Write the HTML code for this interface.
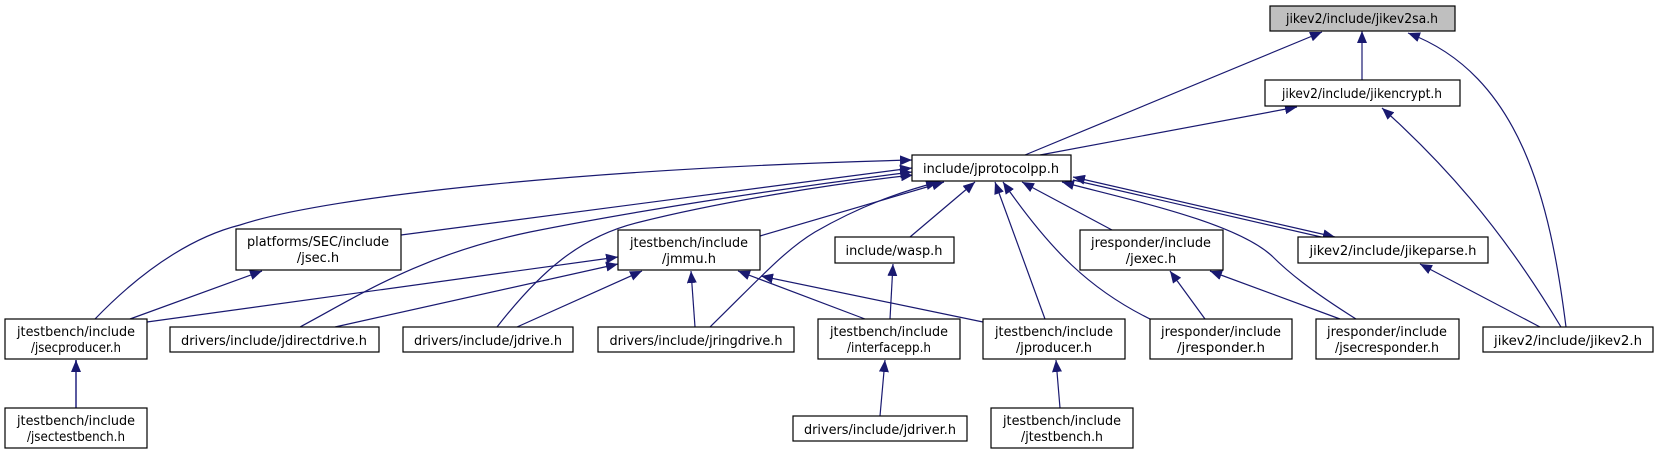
<!DOCTYPE html>
<html><head><meta charset="utf-8">
<style>
html,body{margin:0;padding:0;background:#fff;}
svg{display:block;}
text{font-family:"DejaVu Sans","Liberation Sans",sans-serif;font-size:13px;fill:#000;}
</style></head><body>
<svg width="1658" height="455" viewBox="0 0 1658 455" xmlns="http://www.w3.org/2000/svg">
<defs>
<marker id="a" viewBox="0 0 12 10" refX="12" refY="5" markerWidth="12" markerHeight="10" markerUnits="userSpaceOnUse" orient="auto-start-reverse">
<path d="M0,0 L12,5 L0,10 z" fill="#191970"/>
</marker>
</defs>
<g fill="none" stroke="#191970" stroke-width="1.2">
<path d="M1362,80 L1362,31" marker-end="url(#a)"/>
<path d="M1025,155 L1322,32" marker-end="url(#a)"/>
<path d="M1566,327 C1550,200 1520,75 1408,33" marker-end="url(#a)"/>
<path d="M1040,155 L1297,107" marker-end="url(#a)"/>
<path d="M1561,327 C1500,225 1440,160 1382,108" marker-end="url(#a)"/>
<path d="M401,235 L912,168" marker-end="url(#a)"/>
<path d="M95,319 C150,262 200,235 240,225 C330,195 600,168 912,160" marker-end="url(#a)"/>
<path d="M300,327 C360,295 420,255 530,232 C650,208 800,186 912,172" marker-end="url(#a)"/>
<path d="M497,327 C540,272 580,236 640,222 C720,202 830,184 913,175" marker-end="url(#a)"/>
<path d="M760,236 L944,182" marker-end="url(#a)"/>
<path d="M710,327 C760,278 785,250 815,232 C860,206 900,192 938,182" marker-end="url(#a)"/>
<path d="M910,237 L975,182" marker-end="url(#a)"/>
<path d="M1045,319 L995,182" marker-end="url(#a)"/>
<path d="M1152,320 C1090,290 1050,250 1003,182" marker-end="url(#a)"/>
<path d="M1112,230 L1022,182" marker-end="url(#a)"/>
<path d="M1356,319 C1310,290 1288,272 1272,256 C1235,222 1130,200 1062,182" marker-end="url(#a)"/>
<path d="M1073,177 L1335,237" marker-start="url(#a)" marker-end="url(#a)"/>
<path d="M1073,180 L1330,239"/>
<path d="M130,319 L262,271" marker-end="url(#a)"/>
<path d="M147,322 L618,257" marker-end="url(#a)"/>
<path d="M335,327 L618,264" marker-end="url(#a)"/>
<path d="M517,327 L642,271" marker-end="url(#a)"/>
<path d="M695,327 L691,271" marker-end="url(#a)"/>
<path d="M865,319 L738,271" marker-end="url(#a)"/>
<path d="M983,322 L761,276" marker-end="url(#a)"/>
<path d="M890,319 L893,264" marker-end="url(#a)"/>
<path d="M1205,319 L1170,271" marker-end="url(#a)"/>
<path d="M1340,319 L1210,271" marker-end="url(#a)"/>
<path d="M1540,327 L1420,264" marker-end="url(#a)"/>
<path d="M76,408 L76,360" marker-end="url(#a)" stroke="#5a5aa0" stroke-width="2"/>
<path d="M880,416 L885,360" marker-end="url(#a)"/>
<path d="M1060,408 L1056,360" marker-end="url(#a)"/>
</g>
<g stroke-width="1.2">
<rect x="1270" y="6" width="185" height="25" fill="#bfbfbf" stroke="#000"/>
<rect x="1265" y="80" width="195" height="26" fill="#fff" stroke="#000"/>
<rect x="912" y="155" width="159" height="26" fill="#fff" stroke="#000"/>
<rect x="236" y="229" width="165" height="41" fill="#fff" stroke="#000"/>
<rect x="618" y="230" width="142" height="40" fill="#fff" stroke="#000"/>
<rect x="835" y="237" width="119" height="26" fill="#fff" stroke="#000"/>
<rect x="1080" y="230" width="143" height="40" fill="#fff" stroke="#000"/>
<rect x="1298" y="237" width="190" height="26" fill="#fff" stroke="#000"/>
<rect x="5" y="319" width="142" height="40" fill="#fff" stroke="#000"/>
<rect x="170" y="327" width="209" height="25" fill="#fff" stroke="#000"/>
<rect x="403" y="327" width="170" height="25" fill="#fff" stroke="#000"/>
<rect x="598" y="327" width="196" height="25" fill="#fff" stroke="#000"/>
<rect x="818" y="319" width="142" height="40" fill="#fff" stroke="#000"/>
<rect x="983" y="319" width="142" height="40" fill="#fff" stroke="#000"/>
<rect x="1150" y="319" width="142" height="40" fill="#fff" stroke="#000"/>
<rect x="1316" y="319" width="143" height="40" fill="#fff" stroke="#000"/>
<rect x="1483" y="327" width="170" height="25" fill="#fff" stroke="#000"/>
<rect x="5" y="408" width="142" height="40" fill="#fff" stroke="#000"/>
<rect x="793" y="416" width="174" height="25" fill="#fff" stroke="#000"/>
<rect x="991" y="408" width="142" height="40" fill="#fff" stroke="#000"/>
</g>
<g text-anchor="middle">
<text x="1362" y="23" textLength="152" lengthAdjust="spacingAndGlyphs">jikev2/include/jikev2sa.h</text>
<text x="1362" y="98" textLength="160" lengthAdjust="spacingAndGlyphs">jikev2/include/jikencrypt.h</text>
<text x="991" y="173" textLength="136" lengthAdjust="spacingAndGlyphs">include/jprotocolpp.h</text>
<text x="318" y="246" textLength="142" lengthAdjust="spacingAndGlyphs">platforms/SEC/include</text>
<text x="318" y="262">/jsec.h</text>
<text x="689" y="247" textLength="118" lengthAdjust="spacingAndGlyphs">jtestbench/include</text>
<text x="689" y="263">/jmmu.h</text>
<text x="894" y="255" textLength="97" lengthAdjust="spacingAndGlyphs">include/wasp.h</text>
<text x="1151" y="247" textLength="120" lengthAdjust="spacingAndGlyphs">jresponder/include</text>
<text x="1151" y="263">/jexec.h</text>
<text x="1393" y="255" textLength="167" lengthAdjust="spacingAndGlyphs">jikev2/include/jikeparse.h</text>
<text x="76" y="336" textLength="118" lengthAdjust="spacingAndGlyphs">jtestbench/include</text>
<text x="76" y="352" textLength="90" lengthAdjust="spacingAndGlyphs">/jsecproducer.h</text>
<text x="274" y="345" textLength="186" lengthAdjust="spacingAndGlyphs">drivers/include/jdirectdrive.h</text>
<text x="488" y="345" textLength="148" lengthAdjust="spacingAndGlyphs">drivers/include/jdrive.h</text>
<text x="696" y="345" textLength="173" lengthAdjust="spacingAndGlyphs">drivers/include/jringdrive.h</text>
<text x="889" y="336" textLength="118" lengthAdjust="spacingAndGlyphs">jtestbench/include</text>
<text x="889" y="352" textLength="84" lengthAdjust="spacingAndGlyphs">/interfacepp.h</text>
<text x="1054" y="336" textLength="118" lengthAdjust="spacingAndGlyphs">jtestbench/include</text>
<text x="1054" y="352" textLength="76" lengthAdjust="spacingAndGlyphs">/jproducer.h</text>
<text x="1221" y="336" textLength="120" lengthAdjust="spacingAndGlyphs">jresponder/include</text>
<text x="1221" y="352" textLength="88" lengthAdjust="spacingAndGlyphs">/jresponder.h</text>
<text x="1387" y="336" textLength="120" lengthAdjust="spacingAndGlyphs">jresponder/include</text>
<text x="1387" y="352" textLength="104" lengthAdjust="spacingAndGlyphs">/jsecresponder.h</text>
<text x="1568" y="345" textLength="148" lengthAdjust="spacingAndGlyphs">jikev2/include/jikev2.h</text>
<text x="76" y="425" textLength="118" lengthAdjust="spacingAndGlyphs">jtestbench/include</text>
<text x="76" y="441" textLength="98" lengthAdjust="spacingAndGlyphs">/jsectestbench.h</text>
<text x="880" y="434" textLength="152" lengthAdjust="spacingAndGlyphs">drivers/include/jdriver.h</text>
<text x="1062" y="425" textLength="118" lengthAdjust="spacingAndGlyphs">jtestbench/include</text>
<text x="1062" y="441" textLength="82" lengthAdjust="spacingAndGlyphs">/jtestbench.h</text>
</g>
</svg>
</body></html>
